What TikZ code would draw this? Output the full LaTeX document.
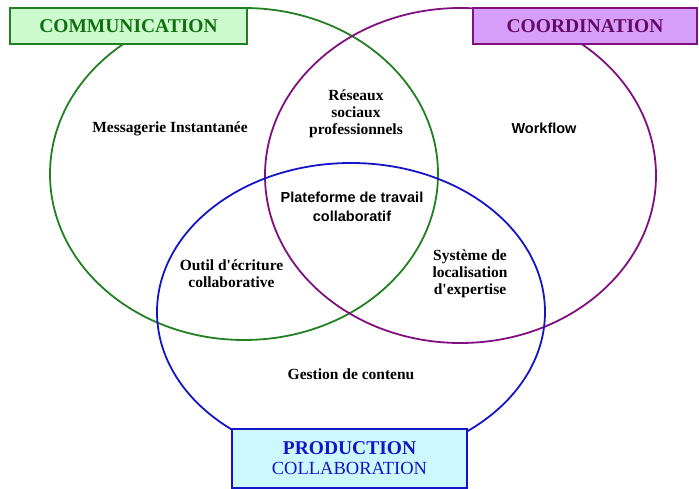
\documentclass[tikz,border=0pt]{standalone}
\usepackage{fontspec}
\setmainfont{Liberation Serif}
\setsansfont{Liberation Sans}
\usetikzlibrary{shapes.geometric}
\definecolor{cgreen}{RGB}{34,128,34}
\definecolor{cgreenfill}{RGB}{204,250,204}
\definecolor{cgreentext}{RGB}{16,112,16}
\definecolor{cpurple}{RGB}{128,16,128}
\definecolor{cpurplefill}{RGB}{214,158,248}
\definecolor{cpurpletext}{RGB}{100,10,100}
\definecolor{cblue}{RGB}{20,20,200}
\definecolor{cbluefill}{RGB}{204,248,255}
\definecolor{cbluetext}{RGB}{20,20,200}
\begin{document}
\begin{tikzpicture}[x=1pt,y=-1pt,
  circ/.style={ellipse, draw, line width=1.8pt, inner sep=0pt, outer sep=0pt},
  lab/.style={rectangle, draw, line width=1.6pt, inner sep=0pt, align=center,
    font=\fontsize{19.5}{20}\selectfont\bfseries},
  stxt/.style={font=\fontsize{15.5}{17}\selectfont\bfseries, align=center, inner sep=0pt},
  atxt/.style={font=\sffamily\fontsize{14.5}{19}\selectfont\bfseries, align=center, inner sep=0pt}]
\useasboundingbox (0,0) rectangle (699,489);
\node[circ, draw=cgreen, minimum width=388pt, minimum height=332pt] (comm) at (244,174) {};
\node[circ, draw=cpurple, minimum width=391pt, minimum height=335pt] (coord) at (460.5,175.5) {};
\node[circ, draw=cblue, minimum width=388pt, minimum height=298pt] (prod) at (351,312) {};
\node[lab, draw=cgreen, fill=cgreenfill, text=cgreentext, minimum width=237pt, minimum height=36pt] (commlab) at (128.5,26) {COMMUNICATION};
\node[lab, draw=cpurple, fill=cpurplefill, text=cpurpletext, minimum width=224pt, minimum height=36pt] (coordlab) at (585,26) {COORDINATION};
\node[lab, draw=cblue, fill=cbluefill, text=cbluetext, minimum width=235pt, minimum height=59pt] (prodlab) at (349.5,458.5) {PRODUCTION\\{\mdseries\fontsize{18.5}{20}\selectfont COLLABORATION}};
\node[stxt] (msg) at (170,129) {Messagerie Instantanée};
\node[stxt] (res) at (356,114) {Réseaux\\sociaux\\professionnels};
\node[atxt] (wf) at (544,128) {Workflow};
\node[atxt] (plat) at (352,207) {Plateforme de travail\\collaboratif};
\node[stxt] (outil) at (231.5,273.5) {Outil d\textquotesingle écriture\\collaborative};
\node[stxt] (sys) at (470,274) {Système de\\localisation\\d\textquotesingle expertise};
\node[stxt] (gest) at (351,374) {Gestion de contenu};
\end{tikzpicture}
\end{document}
